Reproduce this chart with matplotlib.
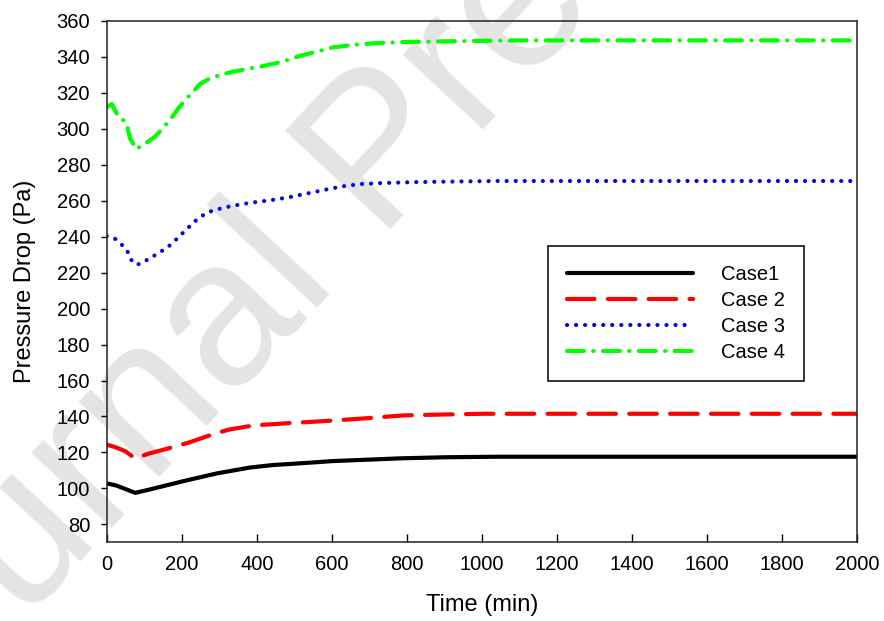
import numpy as np
import matplotlib
matplotlib.use('Agg')
import matplotlib.pyplot as plt

plt.rcParams['font.family'] = ['Liberation Sans', 'DejaVu Sans']

# Data (time in min, pressure drop in Pa)
t1 = [0, 27, 76, 115, 204, 293, 382, 444, 520, 604, 700, 782, 900, 1040, 1200, 1500, 2000]
p1 = [102.8, 101.5, 97.5, 99.4, 104, 108.3, 111.6, 113, 114, 115.2, 116, 116.7, 117.3, 117.6, 117.6, 117.6, 117.6]

t2 = [0, 22, 49, 71, 78, 111, 160, 222, 284, 328, 391, 471, 578, 685, 791, 898, 1004, 1200, 1500, 2000]
p2 = [124.3, 123, 120.7, 117.4, 116.8, 119.3, 122, 125.7, 130.2, 132.8, 135, 136.1, 137.4, 138.9, 140.6, 141.1, 141.5, 141.5, 141.5, 141.5]

t3 = [0, 22, 43, 58, 68, 80, 90, 115, 139, 164, 188, 212, 237, 261, 285, 311, 335, 384, 433, 482,
      531, 579, 628, 677, 726, 823, 1040, 1300, 1600, 2000]
p3 = [240.4, 238.9, 235, 231, 226, 224.5, 225, 228, 231, 234.4, 239, 244, 248.9, 252.6, 254.8, 256, 257.2, 258.9, 260.2, 261.8,
      263.9, 266, 268, 269.3, 269.8, 270.4, 271, 271, 271, 271]

t4 = [0, 13, 31, 52, 62, 78, 102, 129, 169, 188, 209, 249, 274, 302, 337, 371, 418, 466, 515, 561,
      604, 658, 711, 778, 900, 1100, 2000]
p4 = [311.9, 313.8, 306.8, 303.5, 294.8, 288.7, 291.7, 295.7, 305, 310.6, 316, 325, 328, 330, 331.8, 333.2, 335, 337.2, 340.6, 343,
      345.4, 346.7, 347.6, 348.2, 348.7, 349.2, 349.2]

labels = ['Case1', 'Case 2', 'Case 3', 'Case 4']

fig = plt.figure(figsize=(8.84, 6.21), dpi=100)
ax = fig.add_axes([106.7 / 884, 1 - 542.3 / 621, (857 - 106.7) / 884, (542.3 - 21) / 621])
ax.set_facecolor('none')

# watermark
fig.text(-126 / 884, 1 - 784 / 621, 'Journal Pre-proof', fontsize=150, color='#e4e4e4',
         rotation=47, rotation_mode='anchor', ha='left', va='baseline', zorder=-1)

lw = 3
ax.plot(t1, p1, color='black', lw=lw, solid_capstyle='round', solid_joinstyle='round', label=labels[0])
ax.plot(t2, p2, color='#ff0000', lw=lw, linestyle=(0, (6.6, 3.2)), dash_capstyle='round', label=labels[1])
ax.plot(t3, p3, color='#0000ff', lw=lw, linestyle=(0, (0.01, 2.16)), dash_capstyle='round', label=labels[2])
ax.plot(t4, p4, color='#00ff00', lw=lw, linestyle=(0, (4.0, 2.3, 0.01, 2.3)), dash_capstyle='round', label=labels[3])

ax.set_xlim(0, 2000)
ax.set_ylim(70, 360)
ax.set_xticks(np.arange(0, 2001, 200))
ax.set_yticks(np.arange(80, 361, 20))
ax.tick_params(axis='x', direction='in', length=6, width=1, labelsize=14.5, pad=9.5)
ax.tick_params(axis='y', direction='out', length=4.5, width=1, labelsize=14.5, pad=7.5)
for s in ax.spines.values():
    s.set_linewidth(1.1)
    s.set_color('#222222')

ax.set_xlabel('Time (min)', fontsize=17, labelpad=14)
ax.set_ylabel('Pressure Drop (Pa)', fontsize=17, labelpad=15)

leg = ax.legend(loc='upper left', bbox_to_anchor=(548 / 884, 1 - 246 / 621), bbox_transform=fig.transFigure,
                fontsize=14.5, handlelength=6.25, handletextpad=1.4, labelspacing=0.35, borderpad=0.95,
                borderaxespad=0, fancybox=False, framealpha=1)
leg.get_frame().set_edgecolor('black')
leg.get_frame().set_linewidth(1.1)

fig.savefig('out.png', dpi=100)
